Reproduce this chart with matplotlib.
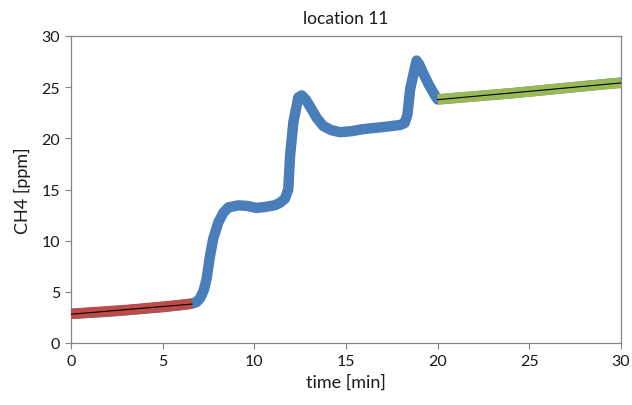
import numpy as np
import matplotlib
matplotlib.use("Agg")
import matplotlib.pyplot as plt

plt.rcParams['font.family'] = ['Lato', 'DejaVu Sans']

blue_t = [0.0, 1.0, 2.0, 3.0, 4.0, 5.0, 6.0, 6.6, 6.85, 7.05, 7.25, 7.4, 7.58, 7.76, 8.04, 8.3, 8.58,
          9.13, 9.6, 10.1, 10.6, 11.1, 11.4, 11.67, 11.85, 11.95, 12.13, 12.4, 12.58,
          12.8, 13.04, 13.4, 13.76, 14.2, 14.67, 15.3, 15.94, 17.0, 17.95, 18.2, 18.35,
          18.5, 18.67, 18.85, 19.0, 19.2, 19.5, 19.85, 20.0, 22.0, 24.0, 26.0, 28.0, 30.0]
blue_v = [2.85, 2.95, 3.05, 3.2, 3.35, 3.5, 3.7, 3.85, 4.0, 4.4, 5.2, 6.3, 8.5, 10.2, 11.8, 12.7, 13.25,
          13.45, 13.4, 13.2, 13.3, 13.45, 13.7, 14.1, 15.0, 18.3, 21.6, 24.0, 24.2,
          23.8, 23.1, 22.0, 21.2, 20.8, 20.6, 20.7, 20.9, 21.1, 21.3, 21.5, 22.3,
          24.8, 26.2, 27.6, 27.2, 26.4, 25.3, 24.2, 23.8, 24.1, 24.4, 24.75, 25.1, 25.45]

# Red series: initial segment
red_t = [0.0, 1.0, 2.0, 3.0, 4.0, 5.0, 6.0, 6.6]
red_v = [2.85, 2.97, 3.1, 3.22, 3.38, 3.55, 3.72, 3.85]

# Green series: final segment
green_t = [20.0, 22.0, 24.0, 26.0, 28.0, 30.0]
green_v = [23.8, 24.1, 24.4, 24.75, 25.1, 25.42]

title = "location 11"
xlabel = "time [min]"
ylabel = "CH4 [ppm]"
xticks = [0, 5, 10, 15, 20, 25, 30]
yticks = [0, 5, 10, 15, 20, 25, 30]

fig = plt.figure(figsize=(6.32, 4.06), dpi=100)
ax = fig.add_axes([71/632, 62/406, 550/632, 307/406])

blue = '#4A7EBB'
red = '#BE4B48'
green = '#98B954'

ax.plot(blue_t, blue_v, color=blue, lw=7.5, solid_capstyle='round', solid_joinstyle='round',
        zorder=2)
ax.plot(red_t, red_v, color=red, lw=7.6, solid_capstyle='butt', zorder=3)
ax.plot(green_t, green_v, color=green, lw=7.6, solid_capstyle='butt', zorder=3)

# linear trend lines
pr = np.polyfit(red_t, red_v, 1)
pg = np.polyfit(green_t, green_v, 1)
rt = np.array([red_t[0], red_t[-1]])
gt = np.array([green_t[0], green_t[-1]])
ax.plot(rt, np.polyval(pr, rt), color='black', lw=0.8, zorder=4)
ax.plot(gt, np.polyval(pg, gt), color='black', lw=0.8, zorder=4)

ax.set_xlim(0, 30)
ax.set_ylim(0, 30)
ax.set_xticks(xticks)
ax.set_yticks(yticks)
ax.tick_params(axis='both', direction='out', length=4, width=0.8, color='#868686',
               labelsize=11.5, labelcolor='#1a1a1a', pad=4)
ax.tick_params(top=False, right=False)
for s in ax.spines.values():
    s.set_color('#868686')
    s.set_linewidth(0.9)

ax.set_title(title, fontsize=12.5, pad=9, color='#1a1a1a')
ax.set_xlabel(xlabel, fontsize=13, labelpad=4, color='#1a1a1a')
ax.set_ylabel(ylabel, fontsize=13, labelpad=7, color='#1a1a1a')

fig.savefig('out.png', dpi=100)
